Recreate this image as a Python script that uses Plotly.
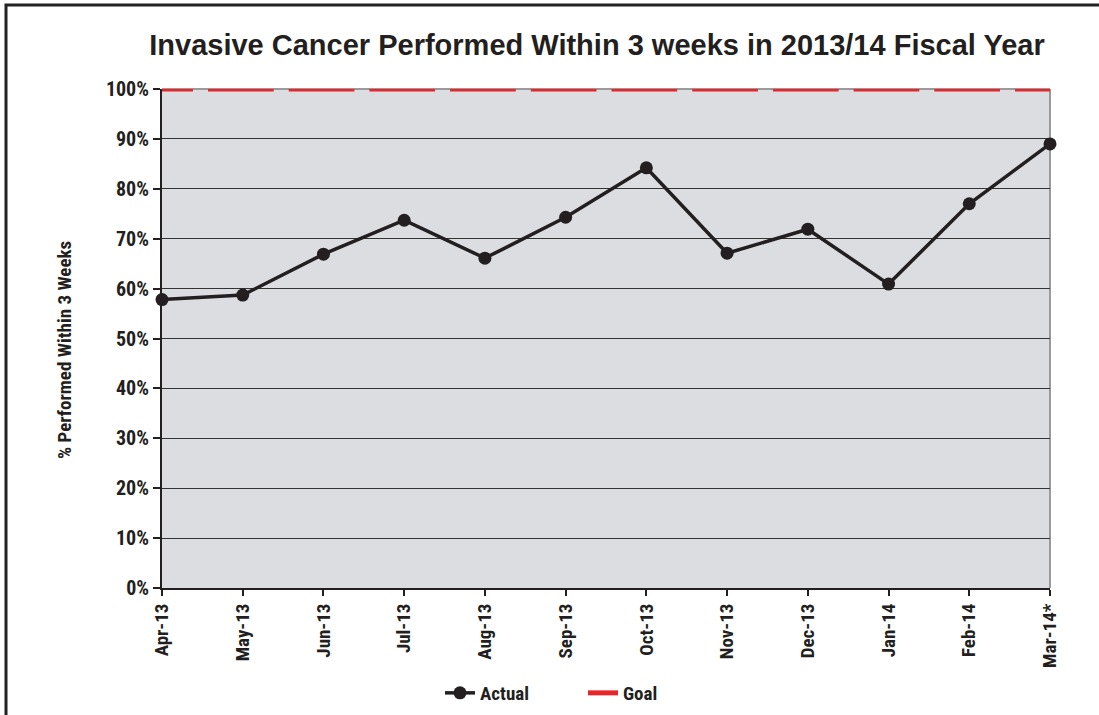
import plotly.graph_objects as go

months = ["Apr-13", "May-13", "Jun-13", "Jul-13", "Aug-13", "Sep-13",
          "Oct-13", "Nov-13", "Dec-13", "Jan-14", "Feb-14", "Mar-14*"]
actual = [57.8, 58.7, 66.9, 73.7, 66.1, 74.3, 84.2, 67.1, 71.9, 60.9, 77.0, 89.0]
goal = [100] * 12

COND = "Liberation Sans Narrow, Roboto Condensed, Arial Narrow, sans-serif"
W, H = 1099, 715
L, R, T, B = 162, 49, 89, 127
pw, ph = W - L - R, H - T - B

fig = go.Figure()
fig.add_trace(go.Scatter(
    x=months, y=actual, name="<b>Actual</b>", mode="lines+markers",
    line=dict(color="#231f20", width=3.5),
    marker=dict(color="#231f20", size=13),
    cliponaxis=False,
))
fig.add_trace(go.Scatter(
    x=months, y=goal, name="<b>Goal</b>", mode="lines",
    line=dict(color="#e8262a", width=5, dash="31px,15px,34.7px,0px"),
    cliponaxis=False,
))

def px_x(p):
    return (p - L) / pw

def px_y(p):
    return (H - B - p) / ph

shapes = [
    dict(type="line", xref="paper", yref="paper", x0=0, x1=1, y0=1, y1=1,
         line=dict(color="#9a9a9a", width=2), layer="below"),
    dict(type="line", xref="paper", yref="paper", x0=1, x1=1, y0=0, y1=1,
         line=dict(color="#9a9a9a", width=2), layer="below"),
    dict(type="rect", xref="paper", yref="paper",
         x0=px_x(6), x1=px_x(1200), y0=px_y(900), y1=px_y(5),
         line=dict(color="#222222", width=3)),
]

annotations = [
    dict(text="<b>% Performed Within 3 Weeks</b>", xref="paper", yref="paper",
         x=px_x(64), y=px_y(350), xanchor="center", yanchor="middle",
         textangle=-90, showarrow=False,
         font=dict(family=COND, size=19, color="#231f20")),
]

fig.update_layout(
    width=W, height=H,
    margin=dict(l=L, r=R, t=T, b=B, autoexpand=False),
    paper_bgcolor="white",
    plot_bgcolor="#dcdde0",
    title=dict(text="<b>Invasive Cancer Performed Within 3 weeks in 2013/14 Fiscal Year</b>",
               xref="container", x=597 / W, xanchor="center",
               y=1 - 45 / H, yanchor="middle",
               font=dict(family="Liberation Sans, Arial, sans-serif", size=29, color="#231f20")),
    showlegend=True,
    legend=dict(orientation="h", x=px_x(440), xanchor="left", y=px_y(693), yanchor="middle",
                font=dict(family=COND, size=19, color="#231f20"),
                entrywidth=98, entrywidthmode="pixels",
                bgcolor="rgba(0,0,0,0)"),
    shapes=shapes,
    annotations=annotations,
    font=dict(family=COND, color="#231f20"),
)
fig.update_xaxes(
    type="category", range=[0, 11], showgrid=False, automargin=False,
    showline=True, linecolor="#231f20", linewidth=2,
    ticks="outside", ticklen=6, tickcolor="#231f20", tickwidth=1.5,
    tickangle=-90,
    tickfont=dict(family=COND, size=19, color="#231f20"),
    tickprefix="<b>", ticksuffix="</b>",
)
fig.update_yaxes(
    range=[0, 100], dtick=10, tickmode="linear", automargin=False,
    showgrid=True, gridcolor="#333333", gridwidth=1,
    showline=True, linecolor="#231f20", linewidth=2,
    zeroline=False,
    ticks="outside", ticklen=7, tickcolor="#231f20", tickwidth=1.5,
    tickprefix="<b>", ticksuffix="%</b>",
    tickfont=dict(family=COND, size=20, color="#231f20"),
)

fig.write_html("out.html", config={"displayModeBar": False},
               post_script="document.body.style.margin='0';document.body.style.overflow='hidden';")
